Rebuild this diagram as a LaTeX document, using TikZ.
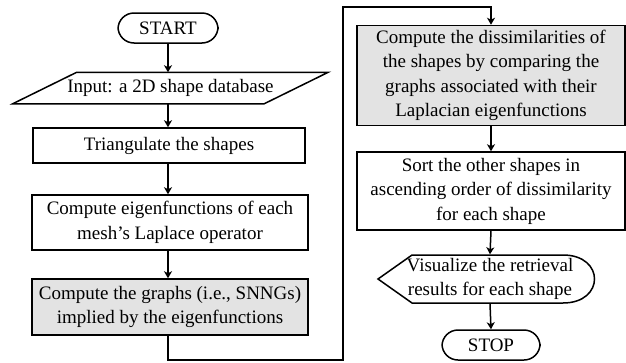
\documentclass[tikz,border=0pt]{standalone}
\usepackage{fontspec}
\setmainfont{Liberation Serif}
\usetikzlibrary{arrows.meta}
\begin{document}
\begin{tikzpicture}[x=1pt,y={(0pt,-1pt)},
  line width=1.5pt,
  every node/.style={font=\fontsize{19}{24.5}\selectfont, align=center, inner sep=0pt},
  procbox/.style={draw, rectangle, minimum height=#1},
  greybox/.style={draw, fill=black!11, rectangle},
  term/.style={draw, rounded corners=16pt, minimum height=30pt},
  flow/.style={-{Stealth[length=7pt,width=8pt,inset=2pt]}},
]
\useasboundingbox (0,0) rectangle (626,362);

% left column
\node[term, minimum width=100pt] (start) at (168,28) {START};
\node[minimum width=250pt, minimum height=30pt] (input) at (170.5,88) {Input: a 2D shape database};
\draw (input.north west) ++(32,0) -- ([xshift=32pt]input.north east)
      -- ([xshift=-32pt]input.south east) -- ([xshift=-32pt]input.south west) -- cycle;
\node[procbox=35pt, minimum width=272pt] (tri) at (169,145.5) {Triangulate the shapes};
\node[procbox=55pt, minimum width=276pt] (eig) at (170,222.5) {Compute eigenfunctions of each\\mesh’s Laplace operator};
\node[greybox, minimum height=56pt, minimum width=276pt] (graphs) at (170,307) {Compute the graphs (i.e., SNNGs)\\implied by the eigenfunctions};

% right column
\node[greybox, minimum height=100pt, minimum width=268pt] (dis) at (491,75.5) {Compute the dissimilarities of\\the shapes by comparing the\\graphs associated with their\\Laplacian eigenfunctions};
\node[procbox=78pt, minimum width=268pt] (sort) at (491,191) {Sort the other shapes in\\ascending order of dissimilarity\\for each shape};
\node[minimum width=150pt, minimum height=48pt] (vis) at (490,279) {Visualize the retrieval\\results for each shape};
\draw (378,279) -- (412,255) -- (563,255)
      .. controls (605,255) and (605,303) .. (563,303) -- (412,303) -- cycle;
\node[term, minimum width=98pt] (stop) at (491,345) {STOP};

% connectors
\draw[flow] (start) -- (start |- input.north);
\draw[flow] (input.south -| start) -- (start |- tri.north);
\draw[flow] (tri.south -| start) -- (start |- eig.north);
\draw[flow] (eig.south -| start) -- (start |- graphs.north);
\coordinate (c1) at (343,360);
\coordinate (c2) at (343,7);
\draw[flow] (graphs.south -| start) -- (start |- c1) -- (c1) -- (c2) -- (c2 -| dis) -- (dis.north);
\draw[flow] (dis) -- (sort.north);
\draw[flow] (sort.south) -- (vis.north);
\draw[flow] (vis.south) -- (stop.north);
\end{tikzpicture}
\end{document}
